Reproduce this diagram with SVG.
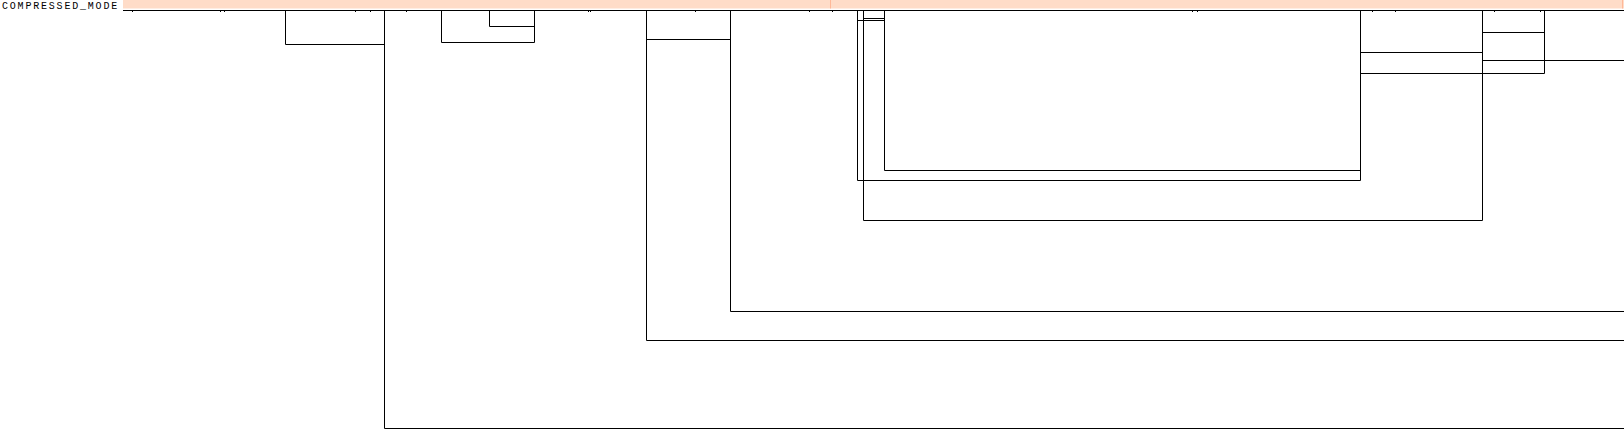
<svg xmlns="http://www.w3.org/2000/svg" width="1624" height="433" viewBox="0 0 1624 433">
<style>
.lbl{font-family:"Liberation Mono","DejaVu Sans Mono",monospace;font-size:10px;letter-spacing:1.8px;fill:#000}
.ln{fill:none;stroke:#000;stroke-width:1}
.tk{fill:#000}
</style>
<rect width="1624" height="433" fill="#fff"/>
<g id="header">
<rect x="123" y="0" width="1501" height="8.5" fill="#FFDCC8"/>
<rect x="830" y="0" width="1" height="8.5" fill="#FFB898"/>
<rect x="1622" y="0" width="1" height="8.5" fill="#FFB898"/>
<text class="lbl" x="2" y="9">COMPRESSED_MODE</text>
<line class="ln" x1="123" y1="10.5" x2="1624" y2="10.5"/>
</g>
<g id="ticks">
<rect class="tk" x="132" y="10" width="1" height="2"/>
<rect class="tk" x="220" y="10" width="1" height="2"/>
<rect class="tk" x="224" y="10" width="1" height="2"/>
<rect class="tk" x="355" y="10" width="1" height="2"/>
<rect class="tk" x="370" y="10" width="1" height="2"/>
<rect class="tk" x="406" y="10" width="1" height="2"/>
<rect class="tk" x="588" y="10" width="1" height="2"/>
<rect class="tk" x="590" y="10" width="1" height="2"/>
<rect class="tk" x="695" y="10" width="1" height="2"/>
<rect class="tk" x="809" y="10" width="1" height="2"/>
<rect class="tk" x="832" y="10" width="1" height="2"/>
<rect class="tk" x="1192" y="10" width="1" height="2"/>
<rect class="tk" x="1197" y="10" width="1" height="2"/>
<rect class="tk" x="1372" y="10" width="1" height="2"/>
<rect class="tk" x="1395" y="10" width="1" height="2"/>
<rect class="tk" x="1494" y="10" width="1" height="2"/>
<rect class="tk" x="1540" y="10" width="1" height="2"/>
</g>
<g id="connectors">
<path class="ln" d="M285.5 10V44.5H384.5"/>
<path class="ln" d="M384.5 10V428.5H1624"/>
<path class="ln" d="M441.5 10V42.5H534.5V10"/>
<path class="ln" d="M489.5 10V26.5H534.5"/>
<path class="ln" d="M646.5 10V340.5H1624"/>
<path class="ln" d="M646.5 39.5H730.5"/>
<path class="ln" d="M730.5 10V311.5H1624"/>
<path class="ln" d="M857.5 10V180.5H1360.5"/>
<path class="ln" d="M863.5 10V220.5H1482.5"/>
<path class="ln" d="M884.5 10V170.5H1360.5"/>
<path class="ln" d="M863.5 18.5H884.5"/>
<path class="ln" d="M857.5 20.5H884.5"/>
<path class="ln" d="M1360.5 10V180.5"/>
<path class="ln" d="M1360.5 52.5H1482.5"/>
<path class="ln" d="M1360.5 73.5H1544.5V10"/>
<path class="ln" d="M1482.5 10V220.5"/>
<path class="ln" d="M1482.5 32.5H1544.5"/>
<path class="ln" d="M1482.5 60.5H1624"/>
</g>
</svg>
